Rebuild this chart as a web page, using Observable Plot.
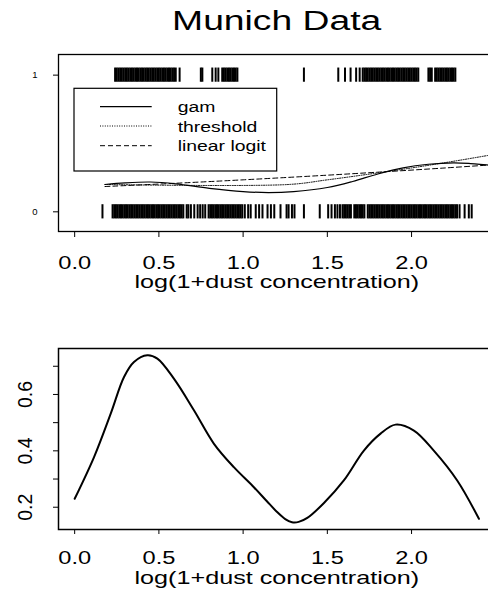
<!DOCTYPE html>
<html><head><meta charset="utf-8">
<script src="https://cdn.jsdelivr.net/npm/d3@7"></script>
<script src="https://cdn.jsdelivr.net/npm/@observablehq/plot@0.6"></script>
<style>
html,body{margin:0;padding:0;overflow:hidden;background:#fff;width:488px;height:590px;}
#top,#bottom,#overlay{position:absolute;left:0;}
#top{top:0px} #bottom{top:300px} #overlay{top:0px}
svg{max-width:none !important;}
</style></head><body>
<div id="top"></div><div id="bottom"></div>
<svg id="overlay" width="488" height="590" style="font-family:'Liberation Sans',Arial,sans-serif"></svg>
<script>
// ---- data ----
const title = "Munich Data";
const xTitle = "log(1+dust concentration)";
const xTicks = [0, 0.5, 1, 1.5, 2];
const xDomain = [-0.096, 2.496];
const topYDomain = [-0.144, 1.151];
const topYTicks = [0, 1];
const botYDomain = [0.121, 0.763];
const botYTicks = [0.2, 0.3, 0.4, 0.5, 0.6, 0.7];
const botYLabels = [0.2, 0.4, 0.6];
const legendNames = ["gam", "threshold", "linear logit"];

// rug: workers with bronchitis (1) and without (0)
const rugOne = [0.24,0.25,0.26,0.27,0.28,0.29,0.30,0.31,0.32,0.33,0.34,0.35,0.36,0.37,0.38,0.39,0.40,0.41,0.42,0.43,0.44,0.45,0.46,0.47,0.48,0.49,0.50,0.51,0.52,0.53,0.54,0.55,0.56,0.57,0.58,0.59,0.60,
0.623,0.749,0.758,0.817,0.837,0.853,0.876,0.886,0.896,0.906,0.916,0.926,0.936,0.946,0.956,0.966,
1.361,1.565,1.605,1.638,1.671,1.692,
1.71,1.72,1.73,1.74,1.75,1.76,1.77,1.78,1.79,1.80,1.81,1.82,1.83,1.84,1.85,1.86,1.87,1.88,1.89,1.90,1.91,1.92,1.93,1.94,1.95,1.96,1.97,1.98,1.99,2.00,2.01,2.02,2.03,2.04,
2.10,2.11,2.12,2.14,2.15,2.16,2.17,2.18,2.19,2.20,2.21,2.22,2.23,2.24,2.25,2.26];
const rugZero = [0.165,
0.225,0.235,0.245,0.255,0.265,0.275,0.285,0.295,0.305,0.315,0.325,0.335,0.345,0.355,0.365,0.375,0.385,0.395,0.405,0.415,0.425,0.435,0.445,0.455,0.465,0.475,0.485,0.495,0.505,0.515,0.525,0.535,0.545,0.555,0.565,0.575,0.585,0.595,0.605,0.615,0.625,0.635,0.645,
0.665,0.675,0.69,0.71,0.73,0.745,0.76,0.775,
0.795,0.805,0.815,0.825,0.835,0.845,0.855,0.865,0.875,0.885,0.895,0.905,0.915,0.925,0.935,0.945,0.955,0.965,0.975,0.985,0.995,
1.01,1.03,1.045,1.075,1.095,1.115,1.145,1.165,1.185,1.222,1.258,1.27,1.29,1.305,
1.361,1.455,1.505,1.525,1.545,1.56,1.575,
1.59,1.60,1.61,1.62,1.63,1.64,1.66,1.67,1.68,1.69,1.70,1.71,1.72,1.74,1.75,1.76,1.77,1.78,1.79,1.80,1.81,1.82,1.83,1.84,1.85,1.86,1.87,1.88,1.89,1.90,1.91,1.92,1.93,1.94,1.95,1.96,1.97,1.98,1.99,2.00,2.01,2.02,2.03,2.04,2.05,2.06,2.07,2.08,2.09,2.10,2.11,2.12,2.13,2.14,2.15,2.16,2.17,2.18,2.19,2.20,2.21,2.22,2.23,2.24,2.25,2.26,2.27,
2.285,2.315,2.34,2.357];

// fitted curves (top panel)
const gamX = [0.18,0.3,0.45,0.6,0.8,1.0,1.15,1.3,1.5,1.65,1.8,1.95,2.1,2.25,2.35,2.49];
const gamY = [0.200,0.212,0.218,0.205,0.172,0.148,0.141,0.148,0.178,0.222,0.277,0.322,0.348,0.358,0.353,0.338];
const thrX = [0.18,1.27,1.5,1.75,2.0,2.25,2.49];
const thrY = [0.200,0.200,0.234,0.276,0.321,0.370,0.420];
const linX = [0.18,0.6,1.0,1.4,1.8,2.2,2.49];
const linY = [0.185,0.209,0.234,0.261,0.290,0.321,0.345];

// bottom panel curve
const densX = [0.0,0.115,0.214,0.293,0.352,0.431,0.491,0.589,0.708,0.827,0.945,1.064,1.14,1.2,1.25,1.29,1.33,1.381,1.48,1.598,1.717,1.816,1.905,2.014,2.132,2.271,2.40];
const densY = [0.230,0.378,0.532,0.662,0.715,0.739,0.727,0.656,0.544,0.425,0.342,0.271,0.222,0.184,0.158,0.147,0.148,0.162,0.215,0.295,0.401,0.461,0.493,0.472,0.401,0.295,0.159];

// ---- styles ----
const font = "'Liberation Sans', Arial, Helvetica, sans-serif";
const rugHalf = 0.052;
const dotted = "1,1.4";
const dashed = "5,3";

const topPlot = Plot.plot({
  width: 510, height: 300,
  marginLeft: 58, marginRight: 15.4, marginTop: 54, marginBottom: 69,
  style: {fontFamily: font, background: "transparent", color: "black", overflow: "visible", maxWidth: "none"},
  x: {domain: xDomain},
  y: {domain: topYDomain},
  marks: [
    Plot.ruleX(rugOne, {x: d => d, y1: 1 - rugHalf, y2: 1 + rugHalf, stroke: "black", strokeWidth: 2}),
    Plot.ruleX(rugZero, {x: d => d, y1: -rugHalf, y2: rugHalf, stroke: "black", strokeWidth: 2}),
    Plot.line(gamY, {x: gamX, y: gamY, curve: "catmull-rom", stroke: "black", strokeWidth: 1.2}),
    Plot.line(thrY, {x: thrX, y: thrY, curve: "catmull-rom", stroke: "black", strokeWidth: 1, strokeDasharray: dotted}),
    Plot.line(linY, {x: linX, y: linY, curve: "catmull-rom", stroke: "black", strokeWidth: 1, strokeDasharray: dashed}),
    Plot.frame({stroke: "black", strokeWidth: 1.3}),
    Plot.axisX({ticks: xTicks, tickSize: 6, tickPadding: 19, tickFormat: d3.format(".1f"), fontSize: 17.5, label: null}),
    Plot.axisY({ticks: topYTicks, tickSize: 5, tickPadding: 16, tickFormat: d3.format("d"), fontSize: 9.5, label: null}),
    Plot.text([xTitle], {text: d => d, frameAnchor: "bottom", dy: 50.6, fontSize: 18.5, lineAnchor: "middle"})
  ]
});

const botPlot = Plot.plot({
  width: 510, height: 290,
  marginLeft: 58, marginRight: 15.4, marginTop: 48, marginBottom: 61,
  style: {fontFamily: font, background: "transparent", color: "black", overflow: "visible", maxWidth: "none"},
  x: {domain: xDomain},
  y: {domain: botYDomain},
  marks: [
    Plot.line(densY, {x: densX, y: densY, curve: "catmull-rom", stroke: "black", strokeWidth: 2}),
    Plot.frame({stroke: "black", strokeWidth: 1.5}),
    Plot.axisX({ticks: xTicks, tickSize: 5, tickPadding: 17.2, tickFormat: d3.format(".1f"), fontSize: 17.5, label: null}),
    Plot.axisY({ticks: botYTicks, tickSize: 5, tickFormat: () => "", label: null}),
    Plot.text(botYLabels, {y: d => d, text: d => d.toFixed(1), frameAnchor: "left", dx: -33, rotate: -90, fontSize: 19.5, textAnchor: "middle", lineAnchor: "middle"}),
    Plot.text([xTitle], {text: d => d, frameAnchor: "bottom", dy: 48.6, fontSize: 18.5, lineAnchor: "middle"})
  ]
});

document.getElementById("top").appendChild(topPlot);
document.getElementById("bottom").appendChild(botPlot);

function stretch(nodes, s) {
  nodes.forEach(el => {
    const w = el.getComputedTextLength();
    if (w > 0) {
      el.setAttribute("textLength", (w * s).toFixed(2));
      el.setAttribute("lengthAdjust", "spacingAndGlyphs");
    }
  });
}
const xTickLabels = xTicks.map(d3.format(".1f"));
for (const svg of [topPlot, botPlot]) {
  const texts = Array.from(svg.querySelectorAll("text"));
  stretch(texts.filter(el => xTickLabels.includes(el.textContent)), 1.35);
  stretch(texts.filter(el => el.textContent === xTitle), 1.36);
}

// ---- title and legend overlay ----
const ov = d3.select("#overlay");
const t = ov.append("text").attr("x", 276.7).attr("y", 30).attr("text-anchor", "middle")
  .attr("font-size", 27).text(title);
stretch([t.node()], 1.38);

const lg = ov.append("g");
lg.append("rect").attr("x", 74).attr("y", 88.3).attr("width", 202.7).attr("height", 82.7)
  .attr("fill", "none").attr("stroke", "black").attr("stroke-width", 1.2);
const rowsY = [106.7, 126, 145.7];
const dashes = [null, dotted, dashed];
legendNames.forEach((name, i) => {
  const line = lg.append("line").attr("x1", 100).attr("x2", 151.7).attr("y1", rowsY[i]).attr("y2", rowsY[i])
    .attr("stroke", "black").attr("stroke-width", i === 0 ? 1.2 : 1);
  if (dashes[i]) line.attr("stroke-dasharray", dashes[i]);
  const tx = lg.append("text").attr("x", 177.7).attr("y", rowsY[i] + 5.6).attr("font-size", 15.5).text(name);
  stretch([tx.node()], 1.25);
});
</script>
</body></html>
